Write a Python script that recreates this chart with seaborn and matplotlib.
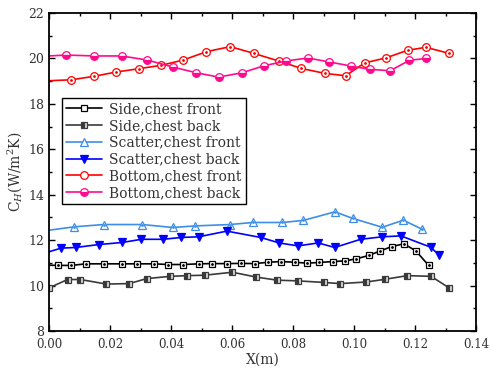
import numpy as np
import pandas as pd
import matplotlib
matplotlib.use("Agg")
import matplotlib.pyplot as plt
import seaborn as sns
from matplotlib.ticker import MultipleLocator, FormatStrFormatter

# Data
side_front_x = [0.0, 0.0030, 0.0072, 0.0121, 0.0180, 0.0238, 0.0289, 0.0344, 0.0390, 0.0440,
                0.0490, 0.0533, 0.0583, 0.0630, 0.0675, 0.0718, 0.0761, 0.0805, 0.0846, 0.0885,
                0.0931, 0.0969, 0.1007, 0.1048, 0.1084, 0.1123, 0.1163, 0.1202, 0.1244]
side_front_y = [10.90, 10.89, 10.89, 10.96, 10.96, 10.96, 10.96, 10.96, 10.93, 10.93,
                10.96, 10.97, 10.97, 10.98, 10.97, 11.03, 11.06, 11.03, 10.99, 11.02,
                11.06, 11.09, 11.18, 11.33, 11.52, 11.72, 11.84, 11.53, 10.89]

side_back_x = [0.0, 0.0061, 0.0102, 0.0188, 0.0263, 0.0320, 0.0398, 0.0453, 0.0511, 0.0601,
               0.0678, 0.0748, 0.0815, 0.0902, 0.0954, 0.1040, 0.1101, 0.1174, 0.1252, 0.1311]
side_back_y = [9.90, 10.27, 10.27, 10.07, 10.09, 10.31, 10.41, 10.44, 10.46, 10.59,
               10.38, 10.24, 10.21, 10.14, 10.09, 10.16, 10.28, 10.44, 10.41, 9.90]

scatter_front_x = [0.0, 0.0083, 0.0180, 0.0306, 0.0405, 0.0480, 0.0593, 0.0667, 0.0765, 0.0833,
                   0.0937, 0.0995, 0.1092, 0.1161, 0.1223]
scatter_front_y = [12.44, 12.59, 12.69, 12.69, 12.56, 12.63, 12.69, 12.78, 12.78, 12.87,
                   13.25, 12.96, 12.57, 12.88, 12.48]

scatter_back_x = [0.0, 0.0039, 0.0088, 0.0164, 0.0240, 0.0303, 0.0373, 0.0433, 0.0490, 0.0583,
                  0.0694, 0.0754, 0.0816, 0.0882, 0.0936, 0.1021, 0.1092, 0.1153, 0.1251, 0.1279]
scatter_back_y = [11.49, 11.65, 11.68, 11.81, 11.90, 12.04, 12.04, 12.12, 12.15, 12.40,
                  12.12, 11.88, 11.75, 11.88, 11.68, 12.04, 12.15, 12.19, 11.69, 11.33]

bottom_front_x = [0.0, 0.0072, 0.0146, 0.0219, 0.0295, 0.0368, 0.0440, 0.0516, 0.0594, 0.0672,
                  0.0752, 0.0827, 0.0905, 0.0972, 0.1034, 0.1105, 0.1175, 0.1235, 0.1312]
bottom_front_y = [19.02, 19.06, 19.21, 19.40, 19.55, 19.70, 19.93, 20.30, 20.52, 20.22,
                  19.89, 19.56, 19.34, 19.24, 19.80, 20.03, 20.36, 20.49, 20.22]

bottom_back_x = [0.0, 0.0056, 0.0148, 0.0238, 0.0322, 0.0406, 0.0483, 0.0556, 0.0632, 0.0705,
                 0.0778, 0.0848, 0.0917, 0.0988, 0.1051, 0.1118, 0.1181, 0.1236]
bottom_back_y = [20.11, 20.15, 20.11, 20.11, 19.93, 19.62, 19.37, 19.18, 19.37, 19.68,
                 19.89, 20.02, 19.85, 19.67, 19.52, 19.46, 19.92, 20.00]

labels = ["Side,chest front", "Side,chest back", "Scatter,chest front",
          "Scatter,chest back", "Bottom,chest front", "Bottom,chest back"]

sns.set_style("ticks")
plt.rcParams["font.family"] = ["DejaVu Serif"]
plt.rcParams["mathtext.fontset"] = "dejavuserif"

fig = plt.figure(figsize=(4.9, 3.72), dpi=100)
ax = fig.add_axes([0.1, 0.11, 0.872, 0.855])

series = [
    (side_front_x, side_front_y, dict(color="black", marker="s", ms=4.6, mfc="white",
                                      mec="black", markevery=slice(1, None)), True),
    (side_back_x, side_back_y, dict(color="#3a3a3a", marker="s", ms=4.6, mfc="#3a3a3a",
                                    mec="#3a3a3a", fillstyle="left", markerfacecoloralt="#dddddd"), False),
    (scatter_front_x, scatter_front_y, dict(color="#3d8ee8", marker="^", ms=6, mfc="white",
                                            mec="#3d8ee8", markevery=slice(1, None)), True),
    (scatter_back_x, scatter_back_y, dict(color="#0000ff", marker="v", ms=6, mfc="#0000ff",
                                          mec="#0000ff", markevery=slice(1, None)), False),
    (bottom_front_x, bottom_front_y, dict(color="#ff0000", marker="o", ms=5.5, mfc="white",
                                          mec="#ff0000", markevery=slice(1, None)), True),
    (bottom_back_x, bottom_back_y, dict(color="#ff0a8c", marker="o", ms=5.5, mfc="#ff0a8c",
                                        mec="#ff0a8c", fillstyle="bottom", markerfacecoloralt="white",
                                        markevery=slice(1, None)), False),
]

for (xs, ys, style, dotted), label in zip(series, labels):
    sns.lineplot(x=xs, y=ys, ax=ax, label=label, lw=1.2, mew=0.9, sort=False,
                 estimator=None, **style)
    if dotted:
        ax.plot(xs[1:], ys[1:], ls="none", marker="o", ms=1.0, color=style["mec"])

ax.set_xlim(0, 0.14)
ax.set_ylim(8, 22)
ax.xaxis.set_major_locator(MultipleLocator(0.02))
ax.xaxis.set_minor_locator(MultipleLocator(0.01))
ax.yaxis.set_major_locator(MultipleLocator(2))
ax.yaxis.set_minor_locator(MultipleLocator(1))
ax.xaxis.set_major_formatter(FormatStrFormatter("%.2f"))
ax.tick_params(which="both", direction="in", top=True, right=True, colors="black",
               labelcolor="#333333", labelsize=9, width=1)
ax.tick_params(which="major", length=4.5)
ax.tick_params(which="minor", length=2.5)
ax.tick_params(axis="x", pad=5, labelsize=8.5)
for sp in ax.spines.values():
    sp.set_visible(True)
    sp.set_linewidth(1.3)
    sp.set_color("black")

ax.set_xlabel("X(m)", fontsize=10, color="#333333", labelpad=1)
ax.set_ylabel(r"C$_H$(W/m$^2$K)", fontsize=10, color="#333333", labelpad=2)

leg = ax.legend(loc="upper left", bbox_to_anchor=(0.03, 0.733), borderaxespad=0,
                fancybox=False, edgecolor="black", framealpha=1, fontsize=10,
                handlelength=2.6, labelspacing=0.2, borderpad=0.3, handletextpad=0.5)
leg.get_frame().set_linewidth(1.0)
for t in leg.get_texts():
    t.set_color("#333333")

fig.savefig("out.png", dpi=100)
